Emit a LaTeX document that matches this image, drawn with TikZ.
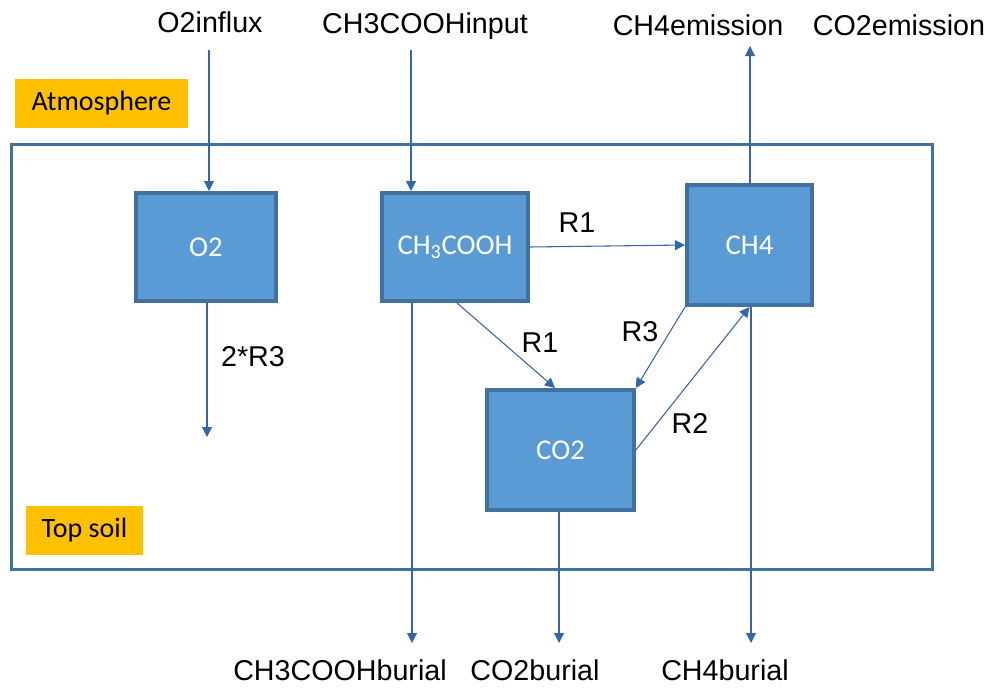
\documentclass[tikz,border=0pt]{standalone}
\usepackage{fontspec}
\setmainfont{Liberation Sans}
\newfontfamily\calfont{Carlito}
\usetikzlibrary{arrows.meta}
\definecolor{boxfill}{HTML}{5B9BD5}
\definecolor{boxline}{HTML}{41719C}
\definecolor{arrowcol}{HTML}{3466A8}
\definecolor{tagfill}{HTML}{FFC000}
\tikzset{
  pool/.style={draw=boxline, line width=3pt, fill=boxfill, inner sep=0pt,
    text=white, font=\calfont\fontsize{21.5}{25}\selectfont},
  region/.style={draw=boxline, line width=2.8pt, inner sep=0pt},
  tag/.style={fill=tagfill, inner sep=0pt, minimum height=36.75pt,
    font=\calfont\fontsize{21}{25}\selectfont},
  lbl/.style={inner sep=0pt, font=\fontsize{21.5}{25}\selectfont},
  flow/.style={draw=arrowcol, line width=0.8pt, -{Triangle[length=7.5pt,width=7.5pt]}},
}
\begin{document}
\begin{tikzpicture}[x=0.75pt,y=-0.75pt]
\useasboundingbox (0,0) rectangle (989,689);
% soil frame
\node[region, minimum width=690.75pt, minimum height=318.75pt] (frame) at (472,357) {};
% tags
\node[tag, minimum width=129.75pt] (atm) at (101.5,103.5) {Atmosphere};
\node[tag, minimum width=87.75pt] (soil) at (84.5,530.5) {Top soil};
% pools
\node[pool, minimum width=105pt, minimum height=81pt] (O2) at (206,247) {O2};
\node[pool, minimum width=109.5pt, minimum height=81pt] (AC) at (455,247) {CH\textsubscript{3}COOH};
\node[pool, minimum width=93.75pt, minimum height=90pt] (CH4) at (749.5,245) {CH4};
\node[pool, minimum width=110pt, minimum height=90pt] (CO2) at (560.5,450) {CO2};
% external labels
\node[lbl, anchor=base] (o2inT) at (210,32) {O2influx};
\node[lbl, anchor=base] (acinT) at (425,33) {CH3COOHinput};
\node[lbl, anchor=base] (ch4eT) at (698,35) {CH4emission};
\node[lbl, anchor=base] (co2eT) at (899,35) {CO2emission};
\node[lbl, anchor=base] (acbT) at (340,680) {CH3COOHburial};
\node[lbl, anchor=base] (co2bT) at (535,680) {CO2burial};
\node[lbl, anchor=base] (ch4bT) at (725,680) {CH4burial};
% free ends
\coordinate (o2in) at (209,50);
\coordinate (acin) at (411,50);
\coordinate (ch4e) at (750,46);
\coordinate (o2out) at (207,437);
\coordinate (acb) at (412,643);
\coordinate (co2b) at (559,643);
\coordinate (ch4b) at (751,643);
\coordinate (acs) at (457,0);
\coordinate (co2n) at (555,0);
% flows
\draw[flow] (o2in) -- (o2in |- O2.north);
\draw[flow] (acin) -- (acin |- AC.north);
\draw[flow] (ch4e |- CH4.north) -- (ch4e);
\draw[flow] (o2out |- O2.south) -- (o2out);
\draw[flow] (acb |- AC.south) -- (acb);
\draw[flow] (co2b |- CO2.south) -- (co2b);
\draw[flow] (ch4b |- CH4.south) -- (ch4b);
\draw[flow] (AC.east) -- (CH4.west);
\draw[flow] (acs |- AC.south) -- (co2n |- CO2.north);
\draw[flow] (CH4.south west) -- (CO2.north east);
\draw[flow] (CO2.east) -- (CH4.south);
% reaction labels
\node[lbl] (r1a) at (577,223) {R1};
\node[lbl] (r1b) at (540,343) {R1};
\node[lbl] (r3) at (640,332) {R3};
\node[lbl] (r2) at (690,423) {R2};
\node[lbl] (r3b) at (253,357) {2*R3};
\end{tikzpicture}
\end{document}
